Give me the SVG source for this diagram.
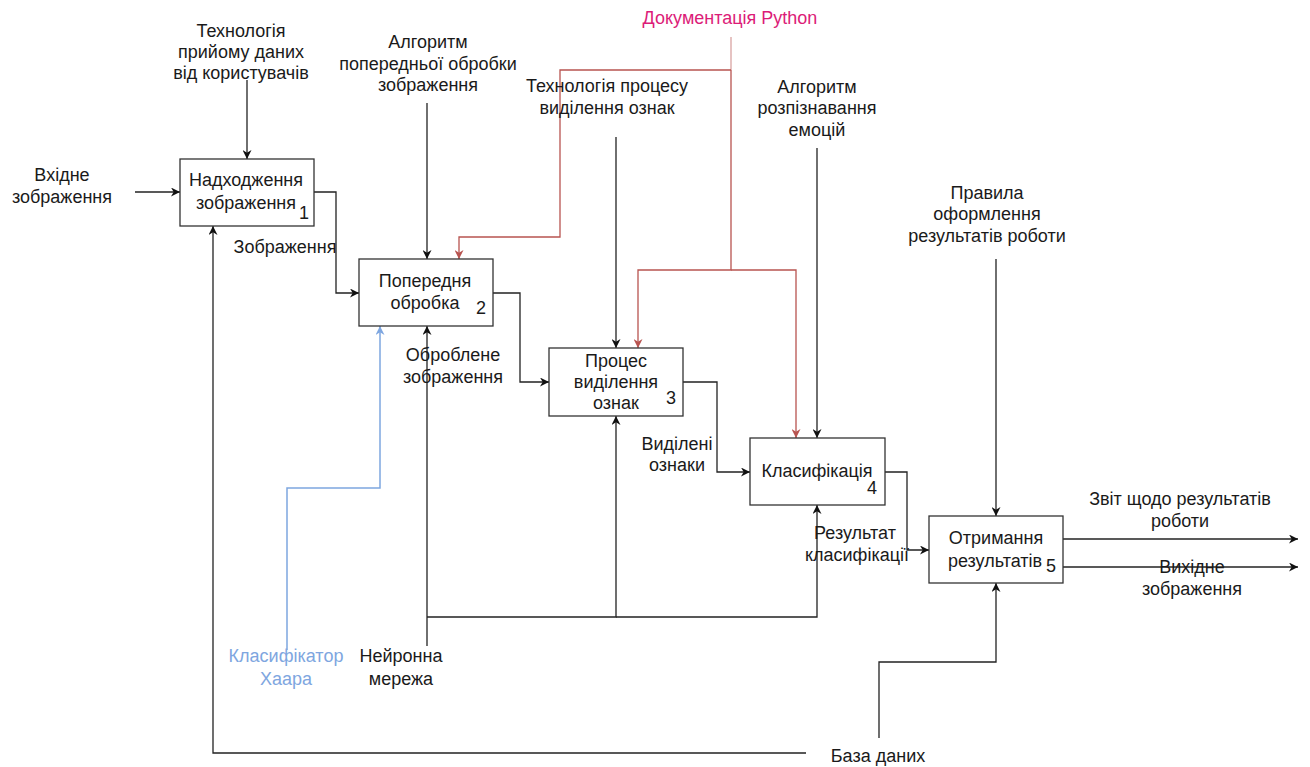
<svg xmlns="http://www.w3.org/2000/svg" width="1310" height="767" viewBox="0 0 1310 767">
  <style>
    text { font-family: "Liberation Sans", Arial, Helvetica, sans-serif; font-size: 18px; fill: #1a1a1a; text-anchor: middle; }
    .box { fill: #ffffff; stroke: #333333; stroke-width: 1.3; }
    .num { text-anchor: start; }
    .ln { fill: none; stroke: #222222; stroke-width: 1.3; }
    .red { fill: none; stroke: #b85450; stroke-width: 1.3; }
    .red-faint { fill: none; stroke: #d9a3a1; stroke-width: 1.3; }
    .blue { fill: none; stroke: #7ea6e0; stroke-width: 1.5; }
    .pink { fill: #dc1c78; }
    .bluet { fill: #7ea6e0; }
  </style>
  <defs>
    <marker id="arr" viewBox="0 0 10 10" refX="10" refY="5" markerWidth="9" markerHeight="9" markerUnits="userSpaceOnUse" orient="auto">
      <path d="M0,0 L10,5 L0,10 L3,5 z" fill="#111111"/>
    </marker>
    <marker id="arr-red" viewBox="0 0 10 10" refX="10" refY="5" markerWidth="9" markerHeight="9" markerUnits="userSpaceOnUse" orient="auto">
      <path d="M0,0 L10,5 L0,10 L3,5 z" fill="#b85450"/>
    </marker>
    <marker id="arr-blue" viewBox="0 0 10 10" refX="10" refY="5" markerWidth="9" markerHeight="9" markerUnits="userSpaceOnUse" orient="auto">
      <path d="M0,0 L10,5 L0,10 L3,5 z" fill="#7ea6e0"/>
    </marker>
  </defs>

  <rect width="1310" height="767" fill="#ffffff"/>

  <!-- connectors -->
  <g id="connectors">
    <!-- controls -->
    <path class="ln" d="M247,80 V159" marker-end="url(#arr)"/>
    <path class="ln" d="M427,103 V259" marker-end="url(#arr)"/>
    <path class="ln" d="M616,137 V348" marker-end="url(#arr)"/>
    <path class="ln" d="M817,148 V438" marker-end="url(#arr)"/>
    <path class="ln" d="M996,259 V516" marker-end="url(#arr)"/>
    <!-- inputs / outputs -->
    <path class="ln" d="M135,192 H180" marker-end="url(#arr)"/>
    <path class="ln" d="M314,192 H336 V293 H359" marker-end="url(#arr)"/>
    <path class="ln" d="M493,293 H520 V382 H549" marker-end="url(#arr)"/>
    <path class="ln" d="M683,382 H717 V472 H750" marker-end="url(#arr)"/>
    <path class="ln" d="M885,472 H907 V550 H929" marker-end="url(#arr)"/>
    <path class="ln" d="M1063,539 H1298" marker-end="url(#arr)"/>
    <path class="ln" d="M1063,567 H1298" marker-end="url(#arr)"/>
    <!-- mechanisms: neural network -->
    <path class="ln" d="M427,646 V326" marker-end="url(#arr)"/>
    <path class="ln" d="M427,617 H616 V416" marker-end="url(#arr)"/>
    <path class="ln" d="M616,617 H817 V505" marker-end="url(#arr)"/>
    <!-- mechanisms: database -->
    <path class="ln" d="M806,753 H213 V226" marker-end="url(#arr)"/>
    <path class="ln" d="M879,738 V662 H996 V583" marker-end="url(#arr)"/>
    <!-- mechanism: Haar classifier -->
    <path class="blue" d="M287,650 V488 H380 V326" marker-end="url(#arr-blue)"/>
    <!-- control: Python documentation -->
    <path class="red-faint" d="M731,37 V70"/>
    <path class="red" d="M731,70 H560 V237 H459 V259" marker-end="url(#arr-red)"/>
    <path class="red" d="M731,70 V270 H638 V348" marker-end="url(#arr-red)"/>
    <path class="red" d="M731,270 H796 V438" marker-end="url(#arr-red)"/>
  </g>

  <!-- activity boxes -->
  <g id="box1">
    <rect class="box" x="180" y="159" width="134" height="67"/>
    <text x="246" y="186">Надходження</text>
    <text x="246" y="209">зображення</text>
    <text class="num" x="299" y="219">1</text>
  </g>
  <g id="box2">
    <rect class="box" x="359" y="259" width="134" height="67"/>
    <text x="425" y="287">Попередня</text>
    <text x="425" y="309">обробка</text>
    <text class="num" x="476" y="314">2</text>
  </g>
  <g id="box3">
    <rect class="box" x="549" y="348" width="134" height="68"/>
    <text x="616" y="367">Процес</text>
    <text x="616" y="388">виділення</text>
    <text x="616" y="409">ознак</text>
    <text class="num" x="666" y="404">3</text>
  </g>
  <g id="box4">
    <rect class="box" x="750" y="438" width="135" height="67"/>
    <text x="817" y="477">Класифікація</text>
    <text class="num" x="867" y="494">4</text>
  </g>
  <g id="box5">
    <rect class="box" x="929" y="516" width="134" height="67"/>
    <text x="996" y="544">Отримання</text>
    <text x="995" y="567">результатів</text>
    <text class="num" x="1046" y="572">5</text>
  </g>

  <!-- arrow labels -->
  <g id="labels">
    <text x="241" y="37">Технологія</text>
    <text x="241" y="58">прийому даних</text>
    <text x="241" y="79">від користувачів</text>

    <text x="428" y="48">Алгоритм</text>
    <text x="428" y="70">попередньої обробки</text>
    <text x="428" y="91">зображення</text>

    <text class="pink" x="730" y="24">Документація Python</text>

    <text x="607" y="92">Технологія процесу</text>
    <text x="607" y="114">виділення ознак</text>

    <text x="817" y="93">Алгоритм</text>
    <text x="817" y="114">розпізнавання</text>
    <text x="817" y="136">емоцій</text>

    <text x="987" y="199">Правила</text>
    <text x="987" y="220">оформлення</text>
    <text x="987" y="242">результатів роботи</text>

    <text x="62" y="181">Вхідне</text>
    <text x="62" y="203">зображення</text>

    <text x="285" y="253">Зображення</text>

    <text x="453" y="361">Оброблене</text>
    <text x="453" y="383">зображення</text>

    <text x="677" y="450">Виділені</text>
    <text x="677" y="471">ознаки</text>

    <text x="855" y="539">Результат</text>
    <text x="857" y="561">класифікації</text>

    <text x="1180" y="505">Звіт щодо результатів</text>
    <text x="1180" y="527">роботи</text>

    <text x="1192" y="573">Вихідне</text>
    <text x="1192" y="595">зображення</text>

    <text class="bluet" x="286" y="662">Класифікатор</text>
    <text class="bluet" x="286" y="685">Хаара</text>

    <text x="401" y="662">Нейронна</text>
    <text x="401" y="685">мережа</text>

    <text x="878" y="762">База даних</text>
  </g>
</svg>
